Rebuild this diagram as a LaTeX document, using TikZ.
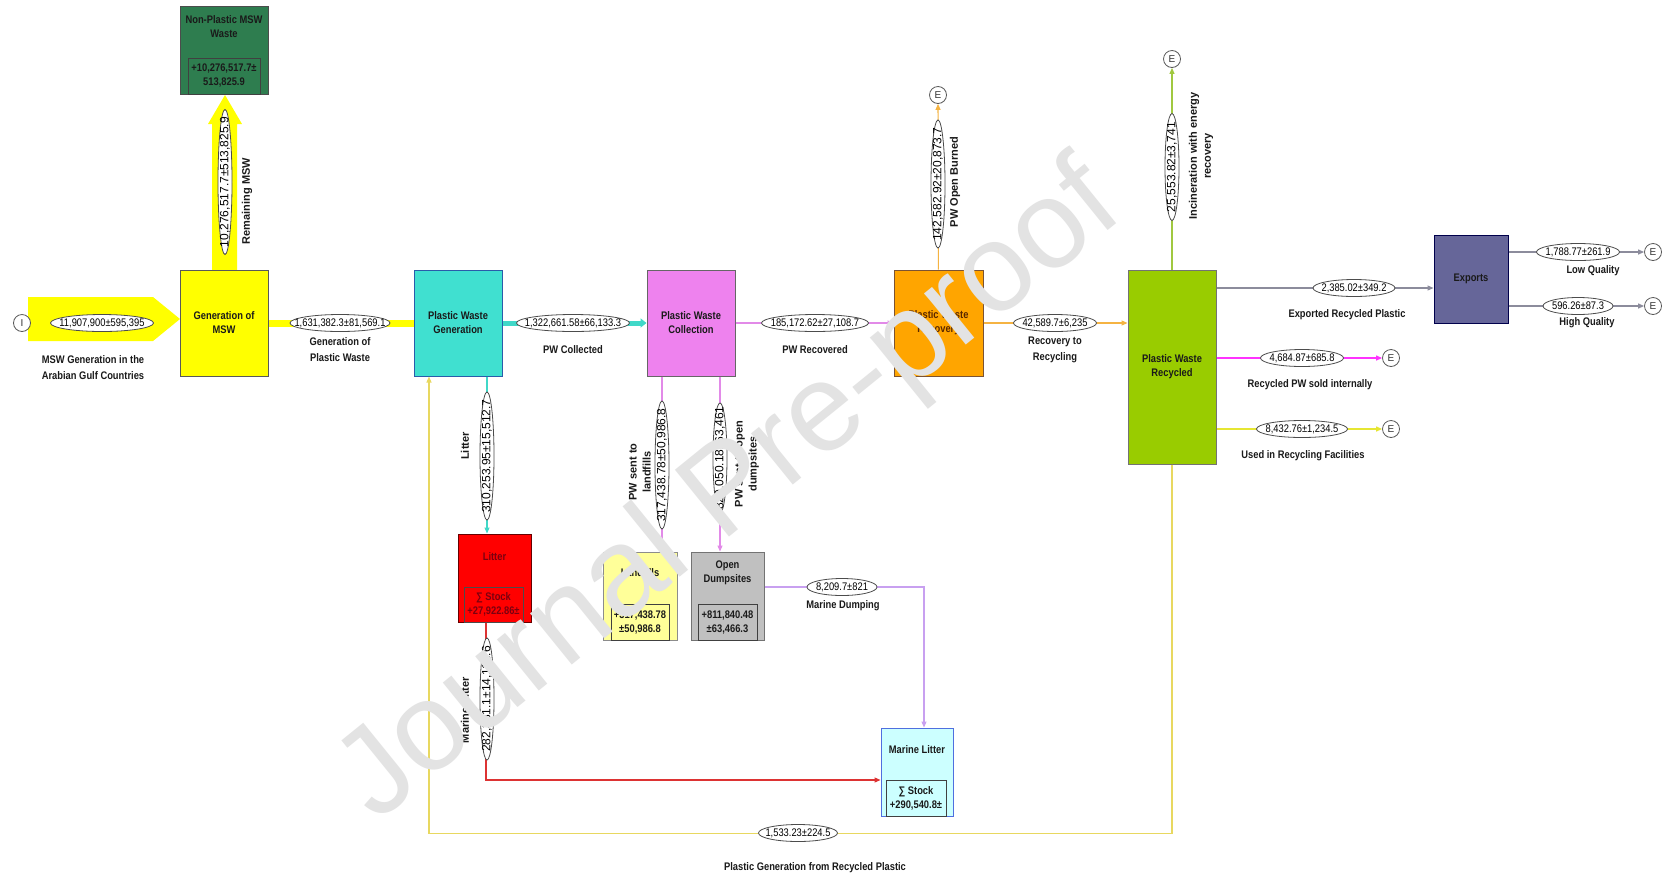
\documentclass[tikz,border=0pt]{standalone}
\usepackage{fontspec}
\setmainfont{Liberation Sans}
\newfontfamily\nar{Liberation Sans}[FakeStretch=0.85]
\usetikzlibrary{arrows.meta,calc}
\definecolor{txt}{HTML}{1A1A1A}
\definecolor{cYel}{HTML}{FFFF00}
\definecolor{cNon}{HTML}{2E7D4F}
\definecolor{cTurq}{HTML}{40E0D0}
\definecolor{cViol}{HTML}{EE82EE}
\definecolor{cOrg}{HTML}{FFA500}
\definecolor{cGrn}{HTML}{99CC00}
\definecolor{cExp}{HTML}{666699}
\definecolor{cRed}{HTML}{FF0000}
\definecolor{cLand}{HTML}{FFFF99}
\definecolor{cDump}{HTML}{C0C0C0}
\definecolor{cMar}{HTML}{CCFFFF}
\definecolor{lTurq}{HTML}{40D8C8}
\definecolor{lViol}{HTML}{E28AE8}
\definecolor{lOrg}{HTML}{F5B342}
\definecolor{lGrn}{HTML}{A0C840}
\definecolor{lGray}{HTML}{8C8C9C}
\definecolor{lMag}{HTML}{FF33FF}
\definecolor{lYel}{HTML}{E6E633}
\definecolor{lLav}{HTML}{C8A0F0}
\definecolor{lRed}{HTML}{DD3333}
\definecolor{lRet}{HTML}{E8D860}
\definecolor{bBlue}{HTML}{2A5CAA}
\definecolor{bMar}{HTML}{4F6FDF}
\definecolor{tBrown}{HTML}{5A2800}
\definecolor{tMaroon}{HTML}{7A0010}
\definecolor{wmark}{HTML}{E3E3E3}
\newcommand\hval[4]{\draw[ellp] (#2) ellipse [x radius=#3, y radius=8.5]; \node[numtxt] (#1) at (#2) {#4};}
\newcommand\vval[4]{\draw[ellp] (#2) ellipse [x radius=7, y radius=#3]; \node[rnum] (#1) at (#2) {#4};}
\begin{document}
\begin{tikzpicture}[x=1pt,y=-1pt]
\tikzset{
 pbox/.style={draw=#1, line width=1pt, inner sep=1pt, align=center, text=txt,
   font=\nar\bfseries\fontsize{11}{14}\selectfont, minimum width=88pt, minimum height=106pt},
 stockbox/.style={draw=black!75, line width=0.7pt, inner sep=0pt, align=center, text=txt,
   font=\nar\bfseries\fontsize{11}{14}\selectfont},
 lbl/.style={align=center, inner sep=0pt, text=txt, font=\nar\bfseries\fontsize{11}{16}\selectfont},
 rlbl/.style={align=center, inner sep=0pt, rotate=90, text=txt, font=\bfseries\fontsize{11}{14}\selectfont},
 numtxt/.style={inner sep=0pt, text=black, font=\nar\fontsize{11}{11}\selectfont},
 rnum/.style={inner sep=0pt, rotate=90, text=black, font=\fontsize{12}{12}\selectfont},
 ellp/.style={draw=black!70, fill=white, line width=0.8pt},
 termc/.style={circle, draw=black!65, fill=white, line width=0.8pt, minimum size=17pt,
   inner sep=0pt, text=black!80, font=\fontsize{10}{10}\selectfont},
 fl/.style={line width=1.1pt, draw=#1, -{Triangle[length=6pt,width=5pt]}},
}
\useasboundingbox (0,0) rectangle (1668,879);
\fill[white] (0,0) rectangle (1668,879);

% ---------- big yellow arrows (shapes) ----------
\fill[cYel] (28,297) -- (153,297) -- (180,319) -- (153,341) -- (28,341) -- cycle;
\fill[cYel] (212,270) -- (212,124) -- (208,124) -- (225,95) -- (242,124) -- (237,124) -- (237,270) -- cycle;

% ---------- process boxes ----------
\node[pbox=black!70, fill=cNon, minimum height=88pt] (nonpl) at (224,50) {};
\node[lbl, font=\nar\bfseries\fontsize{11}{14}\selectfont] (nonplT) at (224,27) {Non-Plastic MSW\\Waste};
\node[stockbox, minimum width=72pt, minimum height=36pt] (nonplS) at (224,76) {+10,276,517.7±\\513,825.9};

\node[pbox=black!65, fill=cYel] (gen) at (224,323) {Generation of\\MSW};
\node[pbox=bBlue, fill=cTurq] (pwg) at (458,323) {Plastic Waste\\Generation};
\node[pbox=black!60, fill=cViol] (pwc) at (691,323) {Plastic Waste\\Collection};
\node[pbox=tBrown!80, fill=cOrg, minimum width=89pt, text=tBrown] (rec) at (938.5,323) {Plastic Waste\\Recovery};
\node[pbox=black!55, fill=cGrn, minimum height=194pt] (recy) at (1172,367) {Plastic Waste\\Recycled};
\node[pbox=black!70!blue, fill=cExp, minimum width=74pt, minimum height=88pt] (exp) at (1471,279) {Exports};

% ---------- stock boxes ----------
\node[pbox=black!60!red, fill=cRed, minimum width=73pt, minimum height=88pt] (litter) at (494.5,578) {};
\node[lbl, text=tMaroon, font=\nar\bfseries\fontsize{11}{14}\selectfont] (litterT) at (494.5,557) {Litter};
\node[stockbox, draw=black!70, text=tMaroon, minimum width=59pt, minimum height=35pt] (litterS) at (493.5,604.5) {∑ Stock\\+27,922.86±};

\node[pbox=black!45, fill=cLand, minimum width=74pt, minimum height=88pt] (landf) at (640,596) {};
\node[lbl, font=\nar\bfseries\fontsize{11}{14}\selectfont] (landfT) at (640,573) {Landfills};
\node[stockbox, minimum width=58pt, minimum height=36pt] (landfS) at (640,622) {+317,438.78\\±50,986.8};

\node[pbox=black!55, fill=cDump, minimum width=73pt, minimum height=88pt] (dump) at (727.5,596) {};
\node[lbl, font=\nar\bfseries\fontsize{11}{14}\selectfont] (dumpT) at (727.5,573) {Open\\Dumpsites};
\node[stockbox, minimum width=59pt, minimum height=36pt] (dumpS) at (727.5,622) {+811,840.48\\±63,466.3};

\node[pbox=bMar, fill=cMar, minimum width=72pt, minimum height=88pt] (marine) at (917,772) {};
\node[lbl, font=\nar\bfseries\fontsize{11}{14}\selectfont] (marineT) at (917,750) {Marine Litter};
\node[stockbox, minimum width=60pt, minimum height=36pt] (marineS) at (916,798) {∑ Stock\\+290,540.8±};

% ---------- terminals ----------
\node[termc] (I) at (22,323) {I};
\node[termc] (e1) at (938,95) {E};
\node[termc] (e2) at (1172,59) {E};
\node[termc] (e3) at (1653,252) {E};
\node[termc] (e4) at (1653,306) {E};
\node[termc] (e5) at (1391,358) {E};
\node[termc] (e6) at (1391,429) {E};

% ---------- connectors ----------
\draw[line width=7pt, draw=cYel] (gen) -- (pwg);
\draw[line width=5pt, draw=lTurq, -{Triangle[length=6pt,width=9pt]}] (pwg) -- (pwc);
\draw[fl=lViol] (pwc) -- (rec);
\draw[fl=lOrg] (rec.east) -- (recy.west |- rec.east);
\draw[fl=lOrg] (rec) -- (e1);
\draw[fl=lGrn] (recy) -- (e2);
\coordinate (exIn) at ($(exp.west)+(0,9)$);
\draw[fl=lGray] (recy.east |- exIn) -- (exIn);
\draw[fl=lGray] (exp.east |- e3) -- (e3);
\draw[fl=lGray] (exp.east |- e4) -- (e4);
\draw[fl=lMag] (recy.east |- e5) -- (e5);
\draw[fl=lYel] (recy.east |- e6) -- (e6);
\draw[fl=lTurq] ($(pwg.south)+(29,0)$) -- ($(litter.north)+(-7.5,0)$);
\draw[fl=lViol] ($(pwc.south)+(-29,0)$) -- ($(landf.north)+(22,0)$);
\draw[fl=lViol] ($(pwc.south)+(29,0)$) -- ($(dump.north)+(-7.5,0)$);
\draw[fl=lLav] ($(dump.east)+(0,-9)$) -| ($(marine.north)+(7,0)$);
\draw[fl=lRed] ($(litter.south)+(-8.5,0)$) |- ($(marine.west)+(0,8)$);
\draw[fl=lRet] (recy.south) -- ++(0,369) -| ($(pwg.south)+(-29,0)$);

% ---------- flow values ----------
\hval{v0}{102,323}{51.5}{11,907,900±595,395}
\hval{v1}{340,323}{50}{1,631,382.3±81,569.1}
\hval{v2}{573,323}{56.5}{1,322,661.58±66,133.3}
\hval{v3}{815,323}{53.5}{185,172.62±27,108.7}
\hval{v4}{1055,323}{41.5}{42,589.7±6,235}
\hval{v5}{1354,288}{41}{2,385.02±349.2}
\hval{v6}{1578,252}{41.5}{1,788.77±261.9}
\hval{v7}{1578,306}{35}{596.26±87.3}
\hval{v8}{1302,358}{41.5}{4,684.87±685.8}
\hval{v9}{1302,429}{45.5}{8,432.76±1,234.5}
\hval{v10}{842,587}{35}{8,209.7±821}
\hval{v11}{798,833}{39.5}{1,533.23±224.5}
\vval{w0}{225,182}{72.5}{10,276,517.7±513,825.9}
\vval{w1}{938,184}{64}{142,582.92±20,873.7}
\vval{w2}{1172,167}{53.5}{25,553.82±3,741}
\vval{w3}{487,456}{64}{310,253.95±15,512.7}
\vval{w4}{662,465}{64}{317,438.78±50,986.8}
\vval{w5}{720,458}{55}{820,050.18±63,461}
\vval{w6}{487,699}{61}{282,331.1±14,116.6}

% ---------- flow labels ----------
\node[lbl] (t0) at (93,368) {MSW Generation in the\\Arabian Gulf Countries};
\node[lbl] (t1) at (340,350) {Generation of\\Plastic Waste};
\node[lbl] (t2) at (573,350) {PW Collected};
\node[lbl] (t3) at (815,350) {PW Recovered};
\node[lbl] (t4) at (1055,350) {Recovery to\\Recycling};
\node[lbl] (t5) at (1347,315) {Exported Recycled Plastic};
\node[lbl] (t6) at (1593,271) {Low Quality};
\node[lbl] (t7) at (1587,323) {High Quality};
\node[lbl] (t8) at (1310,385) {Recycled PW sold internally};
\node[lbl] (t9) at (1303,456) {Used in Recycling Facilities};
\node[lbl] (t10) at (843,606) {Marine Dumping};
\node[lbl] (t11) at (815,868) {Plastic Generation from Recycled Plastic};
\node[rlbl] (r0) at (247,201) {Remaining MSW};
\node[rlbl] (r1) at (955,182) {PW Open Burned};
\node[rlbl] (r2) at (1201,156) {Incineration with energy\\recovery};
\node[rlbl] (r3) at (465,446) {Litter};
\node[rlbl] (r4) at (640,472) {PW sent to\\landfills};
\node[rlbl] (r5) at (747,464) {PW sent to open\\dumpsites};
\node[rlbl] (r6) at (465,710) {Marine Litter};

% ---------- watermark ----------
\node[rotate=39, inner sep=0pt, text=wmark, font=\fontsize{125}{125}\selectfont] (wm) at (731,494) {Journal Pre-proof};
\end{tikzpicture}
\end{document}
